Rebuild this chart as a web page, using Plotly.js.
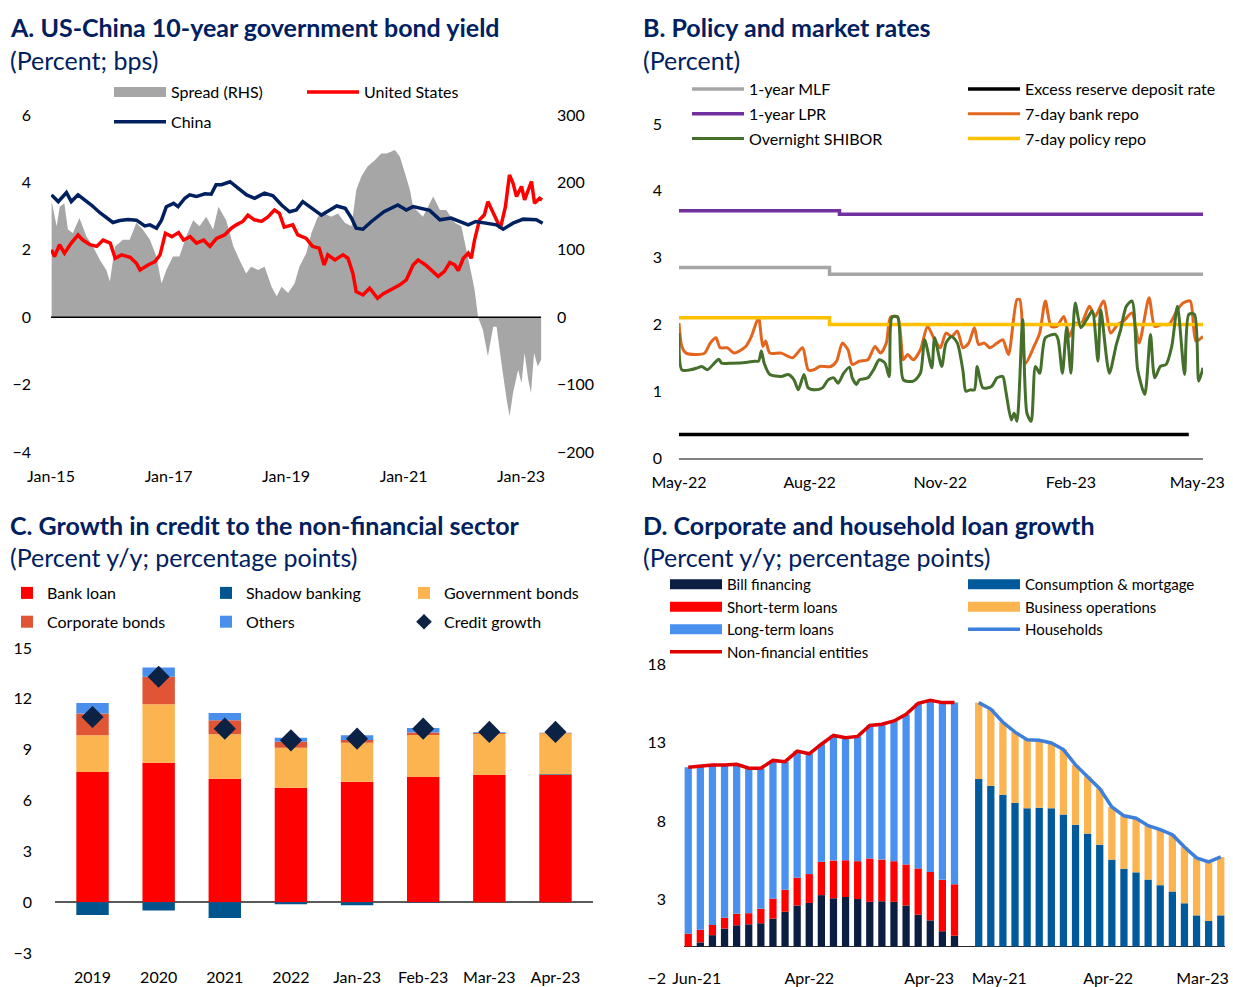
<!DOCTYPE html>
<html>
<head>
<meta charset="utf-8">
<script src="https://cdn.plot.ly/plotly-3.0.1.min.js"></script>
<style>html,body{margin:0;padding:0;background:#fff;}#chart{width:1233px;height:987px;}</style>
</head>
<body>
<div id="chart"></div>
<script>
// ---------- Panel A: US-China 10-year government bond yield ----------
const aChinaDates = ['2015-01-04','2015-02-15','2015-04-07','2015-05-07','2015-06-18','2015-07-26','2015-09-09','2015-11-01','2015-12-12','2016-01-21','2016-03-04','2016-04-23','2016-06-15','2016-08-06','2016-09-07','2016-10-18','2016-11-18','2016-12-18','2017-02-01','2017-03-01','2017-04-12','2017-05-12','2017-06-23','2017-08-15','2017-09-23','2017-10-23','2017-11-26','2018-01-18','2018-03-09','2018-05-01','2018-06-20','2018-08-20','2018-10-12','2018-12-04','2019-01-23','2019-03-06','2019-04-15','2019-05-26','2019-08-09','2019-10-01','2019-11-12','2020-01-04','2020-02-12','2020-03-12','2020-04-23','2020-06-15','2020-08-06','2020-09-01','2020-11-26','2021-01-18','2021-03-01','2021-06-12','2021-08-15','2021-10-23','2022-02-07','2022-03-26','2022-08-01','2022-09-12','2022-11-12','2023-01-15','2023-04-06','2023-05-15'];
const aChina = [3.63,3.43,3.70,3.43,3.63,3.50,3.33,3.10,2.94,2.81,2.87,2.90,2.88,2.71,2.74,2.64,2.88,3.28,3.38,3.28,3.53,3.63,3.58,3.66,3.65,3.93,3.93,4.02,3.83,3.63,3.53,3.68,3.60,3.33,3.13,3.18,3.43,3.28,3.03,3.18,3.30,3.23,2.94,2.64,2.61,2.84,3.04,3.13,3.33,3.18,3.28,3.17,2.89,2.94,2.74,2.84,2.74,2.61,2.79,2.91,2.89,2.79];

const aUSDates = ['2015-01-04','2015-01-23','2015-02-23','2015-03-26','2015-05-07','2015-06-18','2015-07-18','2015-09-01','2015-10-12','2015-11-21','2016-01-04','2016-02-04','2016-03-15','2016-05-07','2016-06-15','2016-07-07','2016-08-26','2016-10-09','2016-11-09','2016-12-12','2017-01-21','2017-03-04','2017-04-04','2017-05-15','2017-06-23','2017-08-07','2017-09-15','2017-10-26','2017-12-15','2018-01-26','2018-02-26','2018-04-07','2018-05-09','2018-06-18','2018-08-01','2018-09-09','2018-10-21','2018-11-21','2018-12-21','2019-02-12','2019-03-15','2019-05-07','2019-06-15','2019-07-26','2019-08-26','2019-09-18','2019-11-01','2019-12-21','2020-01-21','2020-02-21','2020-03-12','2020-04-23','2020-06-04','2020-07-23','2020-08-26','2020-10-07','2020-12-09','2021-01-18','2021-03-01','2021-04-01','2021-05-18','2021-07-01','2021-08-04','2021-09-12','2021-10-15','2021-11-15','2021-12-07','2022-01-07','2022-02-07','2022-02-26','2022-03-18','2022-04-18','2022-05-18','2022-06-09','2022-07-09','2022-08-01','2022-08-26','2022-09-26','2022-10-21','2022-11-12','2022-12-04','2023-01-04','2023-01-23','2023-03-07','2023-03-26','2023-04-26','2023-05-12'];
const aUS = [2.00,1.80,2.15,1.90,2.20,2.44,2.29,2.15,2.10,2.29,2.20,1.75,1.85,1.78,1.60,1.40,1.55,1.65,1.85,2.49,2.39,2.51,2.29,2.39,2.20,2.29,2.10,2.34,2.44,2.64,2.74,2.84,3.03,2.89,2.84,2.97,3.18,3.08,2.67,2.74,2.44,2.34,2.10,2.05,1.55,1.85,1.70,1.85,1.75,1.30,0.76,0.66,0.86,0.56,0.69,0.81,0.96,1.11,1.55,1.70,1.55,1.36,1.21,1.36,1.62,1.55,1.38,1.75,1.90,1.75,2.29,2.89,3.04,3.43,3.14,2.89,2.64,3.28,4.22,3.98,3.58,3.88,3.48,4.03,3.38,3.53,3.48];

const aSpreadDates = ['2015-01-05','2015-02-05','2015-02-24','2015-03-25','2015-04-16','2015-05-17','2015-06-27','2015-08-09','2015-09-19','2015-11-01','2015-12-11','2016-01-02','2016-02-03','2016-03-23','2016-05-04','2016-06-15','2016-07-25','2016-09-07','2016-10-17','2016-11-18','2016-12-18','2017-01-28','2017-03-09','2017-04-21','2017-06-03','2017-07-12','2017-08-23','2017-10-05','2017-11-07','2017-12-25','2018-02-08','2018-03-18','2018-04-28','2018-05-29','2018-07-11','2018-08-21','2018-10-03','2018-11-04','2018-12-04','2019-01-14','2019-02-23','2019-03-25','2019-05-07','2019-06-08','2019-07-18','2019-08-28','2019-10-09','2019-11-20','2020-01-02','2020-02-12','2020-03-13','2020-04-14','2020-05-23','2020-07-06','2020-08-15','2020-09-18','2020-11-08','2020-12-09','2021-01-09','2021-02-09','2021-03-01','2021-05-01','2021-07-04','2021-08-15','2021-09-23','2021-11-15','2021-12-26','2022-01-26','2022-02-26','2022-03-18','2022-04-09','2022-05-09','2022-06-09','2022-07-12','2022-08-02','2022-09-04','2022-10-04','2022-10-22','2022-11-12','2022-12-14','2023-01-04','2023-01-23','2023-02-15','2023-03-04','2023-03-23','2023-04-15','2023-05-06'];
const aSpread = [172,135,164,169,130,125,147,120,105,85,70,53,105,115,115,140,130,115,90,50,70,90,90,120,144,135,149,130,164,144,105,85,65,75,70,75,45,31,45,36,50,75,95,125,149,154,149,154,140,135,189,209,224,233,243,243,248,238,214,189,164,149,179,159,159,140,135,100,65,41,0,-19,-58,-14,-14,-73,-123,-147,-113,-78,-98,-53,-93,-113,-53,-73,-63];

// ---------- Panel B: Policy and market rates ----------
const bMLFDates = ['2022-05-01','2022-08-15','2023-05-05'];
const bMLF = [2.85,2.75,2.75];
const bLPRDates = ['2022-05-01','2022-08-22','2023-05-05'];
const bLPR = [3.70,3.65,3.65];
const bPolicyDates = ['2022-05-01','2022-08-15','2023-05-05'];
const bPolicy = [2.10,2.00,2.00];
const bExcessDates = ['2022-05-01','2023-04-25'];
const bExcess = [0.35,0.35];
const bRepoDates = ['2022-05-01','2022-05-03','2022-05-06','2022-05-14','2022-05-19','2022-05-23','2022-05-27','2022-05-30','2022-06-04','2022-06-09','2022-06-17','2022-06-21','2022-06-26','2022-06-29','2022-07-01','2022-07-04','2022-07-12','2022-07-20','2022-07-27','2022-07-31','2022-08-04','2022-08-08','2022-08-16','2022-08-20','2022-08-24','2022-08-28','2022-08-31','2022-09-05','2022-09-11','2022-09-16','2022-09-20','2022-09-24','2022-09-27','2022-10-02','2022-10-06','2022-10-09','2022-10-13','2022-10-18','2022-10-23','2022-10-28','2022-11-01','2022-11-05','2022-11-09','2022-11-13','2022-11-17','2022-11-21','2022-11-25','2022-11-28','2022-12-02','2022-12-06','2022-12-11','2022-12-15','2022-12-19','2022-12-25','2022-12-27','2022-12-31','2023-01-06','2023-01-10','2023-01-14','2023-01-18','2023-01-22','2023-01-27','2023-01-31','2023-02-04','2023-02-08','2023-02-14','2023-02-18','2023-02-24','2023-03-01','2023-03-06','2023-03-10','2023-03-16','2023-03-21','2023-03-28','2023-04-01','2023-04-06','2023-04-11','2023-04-17','2023-04-21','2023-04-26','2023-04-30','2023-05-05'];
const bRepo = [2.02,1.67,1.57,1.55,1.57,1.72,1.80,1.65,1.65,1.57,1.67,1.82,2.10,1.67,1.75,1.57,1.57,1.50,1.65,1.32,1.32,1.37,1.37,1.45,1.72,1.62,1.40,1.45,1.47,1.67,1.57,1.72,2.11,2.11,1.47,1.55,1.47,1.62,1.97,1.77,1.65,1.87,1.82,1.90,1.65,1.72,1.95,1.70,1.72,1.65,1.72,1.77,1.55,2.37,2.37,1.42,1.67,1.87,2.35,1.97,1.97,2.12,1.82,2.02,2.00,2.27,2.12,2.35,1.87,2.00,2.05,2.17,1.72,2.40,1.97,2.00,2.00,2.22,2.32,2.35,1.75,1.82];
const bShiborDates = ['2022-05-01','2022-05-03','2022-05-09','2022-05-14','2022-05-17','2022-05-21','2022-05-25','2022-05-29','2022-05-31','2022-06-07','2022-06-17','2022-06-23','2022-06-26','2022-06-28','2022-06-30','2022-07-04','2022-07-12','2022-07-17','2022-07-21','2022-07-24','2022-07-28','2022-07-31','2022-08-05','2022-08-10','2022-08-14','2022-08-18','2022-08-21','2022-08-25','2022-08-29','2022-08-31','2022-09-03','2022-09-05','2022-09-11','2022-09-15','2022-09-19','2022-09-23','2022-09-26','2022-09-28','2022-10-02','2022-10-06','2022-10-13','2022-10-18','2022-10-21','2022-10-26','2022-10-28','2022-11-02','2022-11-05','2022-11-09','2022-11-13','2022-11-17','2022-11-19','2022-11-22','2022-11-25','2022-11-27','2022-12-01','2022-12-07','2022-12-11','2022-12-15','2022-12-17','2022-12-21','2022-12-23','2022-12-25','2022-12-29','2023-01-01','2023-01-04','2023-01-07','2023-01-10','2023-01-14','2023-01-21','2023-01-23','2023-01-26','2023-01-29','2023-02-01','2023-02-04','2023-02-08','2023-02-12','2023-02-16','2023-02-20','2023-02-22','2023-02-28','2023-03-05','2023-03-08','2023-03-12','2023-03-16','2023-03-20','2023-03-25','2023-03-29','2023-04-01','2023-04-05','2023-04-09','2023-04-13','2023-04-17','2023-04-22','2023-04-25','2023-04-29','2023-05-02','2023-05-05'];
const bShibor = [1.87,1.32,1.32,1.35,1.37,1.32,1.40,1.48,1.42,1.42,1.43,1.45,1.45,1.60,1.42,1.25,1.22,1.25,1.17,1.02,1.25,1.05,1.02,1.05,1.17,1.20,1.12,1.27,1.36,1.20,1.10,1.17,1.20,1.32,1.47,1.42,1.22,2.11,2.11,1.17,1.15,1.27,1.77,1.35,1.80,1.37,1.72,1.82,1.72,1.30,1.00,1.02,1.02,1.37,1.05,1.07,1.20,1.22,1.02,0.57,0.67,0.55,2.07,0.67,0.55,1.37,1.27,1.80,1.85,1.77,1.27,1.95,1.27,2.32,1.95,2.07,2.20,1.45,2.22,1.27,1.70,1.92,2.27,2.35,1.32,0.95,1.85,1.20,1.37,1.40,1.67,2.27,1.25,2.15,2.15,1.15,1.35];

// ---------- Panel C: Growth in credit to the non-financial sector ----------
const cCategories = ['2019','2020','2021','2022','Jan-23','Feb-23','Mar-23','Apr-23'];
const cBankLoan = [7.68,8.23,7.28,6.75,7.10,7.38,7.50,7.50];
const cShadow = [-0.75,-0.49,-0.93,-0.12,-0.18,-0.04,0.00,0.05];
const cGovBonds = [2.17,3.45,2.63,2.37,2.31,2.49,2.43,2.40];
const cCorpBonds = [1.28,1.62,0.83,0.35,0.16,0.14,0.06,0.03];
const cOthers = [0.63,0.55,0.43,0.24,0.28,0.27,0.04,0.02];
const cCreditGrowth = [10.93,13.30,10.24,9.55,9.65,10.24,10.05,10.05];

// ---------- Panel D: Corporate and household loan growth ----------
const dBill = [0.00,0.27,0.73,1.15,1.36,1.42,1.49,1.78,2.22,2.62,2.78,3.28,3.08,3.16,3.03,2.85,2.89,2.85,2.62,2.03,1.67,0.98,0.69];
const dShort = [0.82,0.80,0.65,0.69,0.73,0.71,0.92,1.27,1.40,1.77,1.84,2.12,2.40,2.34,2.41,2.76,2.65,2.59,2.61,2.95,3.08,3.27,3.28];
const dLong = [10.60,10.44,10.19,9.73,9.52,9.23,8.95,8.81,8.16,8.06,7.66,7.49,7.97,7.81,7.95,8.47,8.62,8.93,9.56,10.52,10.94,11.29,11.57];
const dNonFin = [11.42,11.51,11.57,11.57,11.61,11.36,11.36,11.86,11.78,12.45,12.28,12.89,13.45,13.31,13.39,14.08,14.16,14.37,14.79,15.50,15.69,15.54,15.54];
const dConsumption = [10.67,10.23,9.67,9.16,8.81,8.85,8.81,8.41,7.76,7.20,6.49,5.54,4.96,4.73,4.27,3.91,3.51,2.76,1.99,1.63,1.99];
const dBusiness = [4.87,4.90,4.62,4.50,4.37,4.29,4.16,4.14,3.81,3.64,3.57,3.35,3.37,3.45,3.43,3.54,3.62,3.58,3.66,3.77,3.72];
const dHouseholds = [15.54,15.13,14.29,13.66,13.18,13.14,12.97,12.55,11.57,10.84,10.06,8.89,8.33,8.18,7.70,7.45,7.13,6.34,5.65,5.40,5.71];
const dTickText = ['Jun-21','Apr-22','Apr-23','May-21','Apr-22','Mar-23'];
const dTickPos = [0.7,10,19.9,25.7,34.7,42.5];

// slot positions for panel D (left group, one empty slot, right group)
const dNfX = dNonFin.map((_, i) => i);
const dHhX = dHouseholds.map((_, i) => i + dNonFin.length + 1);

const FONT = 'Lato, "Open Sans", "Liberation Sans", sans-serif';
const NAVY = '#002060';
const COL = {spread:'#A6A6A6', us:'#FF0000', china:'#002060', bill:'#0B1E42', short:'#FF0000', long:'#4A90EE',
             nonfin:'#E00000', cons:'#00599A', bus:'#FBB450', hh:'#3D7FDB'};

// legend key for a filled area / bar series (wide rectangle as in the original)
function key(name, color, axX, axY, legendId, group) {
  return {type:'scatter', x:[null], y:[null], xaxis:axX, yaxis:axY, mode:'lines', line:{color:color, width:12},
          name:name, legend:legendId, legendgroup:group, hoverinfo:'skip'};
}

const traces = [
  // A  (spread on base axis y, shown on the right; yields on overlaying y2, shown on the left)
  {type:'scatter', x:aSpreadDates, y:aSpread, xaxis:'x', yaxis:'y', mode:'none', fill:'tozeroy', fillcolor:COL.spread, name:'Spread (RHS)', showlegend:false, legendgroup:'a1'},
  key('Spread (RHS)', COL.spread, 'x', 'y', 'legend', 'a1'),
  {type:'scatter', x:aUSDates, y:aUS, xaxis:'x', yaxis:'y2', mode:'lines', line:{color:COL.us, width:3.5}, name:'United States', legend:'legend2', legendgroup:'a2'},
  {type:'scatter', x:aChinaDates, y:aChina, xaxis:'x', yaxis:'y2', mode:'lines', line:{color:COL.china, width:3.5}, name:'China', legend:'legend', legendgroup:'a3'},
  // B
  {type:'scatter', x:bMLFDates, y:bMLF, xaxis:'x2', yaxis:'y3', mode:'lines', line:{color:'#A6A6A6', width:3.5, shape:'hv'}, name:'1-year MLF', legend:'legend3', legendgroup:'b1'},
  {type:'scatter', x:bLPRDates, y:bLPR, xaxis:'x2', yaxis:'y3', mode:'lines', line:{color:'#7030A0', width:3.5, shape:'hv'}, name:'1-year LPR', legend:'legend3', legendgroup:'b2'},
  {type:'scatter', x:bExcessDates, y:bExcess, xaxis:'x2', yaxis:'y3', mode:'lines', line:{color:'#000000', width:3.5}, name:'Excess reserve deposit rate', legend:'legend4', legendgroup:'b3'},
  {type:'scatter', x:bRepoDates, y:bRepo, xaxis:'x2', yaxis:'y3', mode:'lines', line:{color:'#E2661E', width:3, shape:'spline', smoothing:0.7}, name:'7-day bank repo', legend:'legend4', legendgroup:'b4'},
  {type:'scatter', x:bPolicyDates, y:bPolicy, xaxis:'x2', yaxis:'y3', mode:'lines', line:{color:'#FFC000', width:3.5, shape:'hv'}, name:'7-day policy repo', legend:'legend4', legendgroup:'b5'},
  {type:'scatter', x:bShiborDates, y:bShibor, xaxis:'x2', yaxis:'y3', mode:'lines', line:{color:'#44702B', width:3, shape:'spline', smoothing:0.7}, name:'Overnight SHIBOR', legend:'legend3', legendgroup:'b6'},
  // C
  {type:'bar', x:cCategories, y:cBankLoan, xaxis:'x3', yaxis:'y4', marker:{color:'#FF0000'}, name:'Bank loan', legend:'legend5', legendgroup:'c1'},
  {type:'bar', x:cCategories, y:cShadow, xaxis:'x3', yaxis:'y4', marker:{color:'#00558F'}, name:'Shadow banking', legend:'legend6', legendgroup:'c2'},
  {type:'bar', x:cCategories, y:cGovBonds, xaxis:'x3', yaxis:'y4', marker:{color:'#FBB450'}, name:'Government bonds', legend:'legend7', legendgroup:'c3'},
  {type:'bar', x:cCategories, y:cCorpBonds, xaxis:'x3', yaxis:'y4', marker:{color:'#E05535'}, name:'Corporate bonds', legend:'legend5', legendgroup:'c4'},
  {type:'bar', x:cCategories, y:cOthers, xaxis:'x3', yaxis:'y4', marker:{color:'#4A8FEC'}, name:'Others', legend:'legend6', legendgroup:'c5'},
  {type:'scatter', x:cCategories, y:cCreditGrowth, xaxis:'x3', yaxis:'y4', mode:'markers', marker:{symbol:'diamond', size:17, color:'#0B2244'}, name:'Credit growth', legend:'legend7', legendgroup:'c6'},
  // D bars
  {type:'bar', x:dNfX, y:dBill, xaxis:'x4', yaxis:'y5', width:0.6, marker:{color:COL.bill}, name:'Bill financing', showlegend:false, legendgroup:'d1'},
  {type:'bar', x:dNfX, y:dShort, xaxis:'x4', yaxis:'y5', width:0.6, marker:{color:COL.short}, name:'Short-term loans', showlegend:false, legendgroup:'d2'},
  {type:'bar', x:dNfX, y:dLong, xaxis:'x4', yaxis:'y5', width:0.6, marker:{color:COL.long}, name:'Long-term loans', showlegend:false, legendgroup:'d3'},
  {type:'bar', x:dHhX, y:dConsumption, xaxis:'x4', yaxis:'y5', width:0.6, marker:{color:COL.cons}, name:'Consumption & mortgage', showlegend:false, legendgroup:'d5'},
  {type:'bar', x:dHhX, y:dBusiness, xaxis:'x4', yaxis:'y5', width:0.6, marker:{color:COL.bus}, name:'Business operations', showlegend:false, legendgroup:'d6'},
  // D legend keys and lines
  key('Bill financing', COL.bill, 'x4', 'y5', 'legend8', 'd1'),
  key('Short-term loans', COL.short, 'x4', 'y5', 'legend8', 'd2'),
  key('Long-term loans', COL.long, 'x4', 'y5', 'legend8', 'd3'),
  {type:'scatter', x:dNfX, y:dNonFin, xaxis:'x4', yaxis:'y5', mode:'lines', line:{color:COL.nonfin, width:3.5}, name:'Non-financial entities', legend:'legend8', legendgroup:'d4'},
  key('Consumption & mortgage', COL.cons, 'x4', 'y5', 'legend9', 'd5'),
  key('Business operations', COL.bus, 'x4', 'y5', 'legend9', 'd6'),
  {type:'scatter', x:dHhX, y:dHouseholds, xaxis:'x4', yaxis:'y5', mode:'lines', line:{color:COL.hh, width:3.5}, name:'Households', legend:'legend9', legendgroup:'d7'}
];

const W = 1233, H = 987;
const px = v => v / W;
const py = v => 1 - v / H;
const tickFont = {family: FONT, size: 16, color: '#000'};
function leg(xl, yt, gap, size, iw, sizing) {
  const o = {x: px(xl), y: py(yt), xanchor: 'left', yanchor: 'top', orientation: 'v', bgcolor: 'rgba(0,0,0,0)',
          borderwidth: 0, tracegroupgap: gap, traceorder: 'grouped', font: {family: FONT, size: size || 16, color: '#000'}};
  if (iw) o.itemwidth = iw;
  if (sizing) o.itemsizing = sizing;
  return o;
}
const baseAxis = {showgrid: false, zeroline: false, showline: false, ticks: '', tickfont: tickFont, fixedrange: true};

const layout = {
  width: W, height: H,
  margin: {l: 0, r: 0, t: 0, b: 0},
  paper_bgcolor: '#fff', plot_bgcolor: 'rgba(0,0,0,0)',
  font: {family: FONT, color: '#000'},
  barmode: 'relative', bargap: 0.51,
  hovermode: false,
  showlegend: true,
  // A
  xaxis: Object.assign({}, baseAxis, {domain: [px(51), px(545)], anchor: 'y', type: 'date', range: ['2015-01-01', '2023-05-30'],
          tickformat: '%b-%y', dtick: 'M24', tick0: '2015-01-01', ticklabelstandoff: 13}),
  yaxis: Object.assign({}, baseAxis, {domain: [py(452), py(115)], anchor: 'x', side: 'right', range: [-200, 300], dtick: 100, ticklabelstandoff: 11}),
  yaxis2: Object.assign({}, baseAxis, {overlaying: 'y', side: 'left', anchor: 'x', range: [-4, 6], dtick: 2, ticklabelstandoff: 19}),
  // B
  xaxis2: Object.assign({}, baseAxis, {domain: [px(679), px(1203)], anchor: 'y3', type: 'date', range: ['2022-05-01', '2023-05-05'],
          tickformat: '%b-%y', dtick: 'M3', tick0: '2022-05-01', showline: true, linecolor: '#808080', linewidth: 1.5, ticklabelstandoff: 9}),
  yaxis3: Object.assign({}, baseAxis, {domain: [py(458), py(124)], anchor: 'x2', range: [0, 5], dtick: 1, ticklabelstandoff: 16}),
  // C
  xaxis3: Object.assign({}, baseAxis, {domain: [px(55), px(593)], anchor: 'y4', type: 'category', ticklabelstandoff: 13}),
  yaxis4: Object.assign({}, baseAxis, {domain: [py(953), py(648)], anchor: 'x3', range: [-3, 15], dtick: 3, ticklabelstandoff: 22,
          zeroline: true, zerolinecolor: '#595959', zerolinewidth: 1.5}),
  // D
  xaxis4: Object.assign({}, baseAxis, {domain: [px(684), px(1225)], anchor: 'y5', range: [-0.35, 44.35], tickmode: 'array',
          tickvals: dTickPos, ticktext: dTickText, ticklabelstandoff: -11, ticklabeloverflow: 'allow'}),
  yaxis5: Object.assign({}, baseAxis, {domain: [py(978), py(664)], anchor: 'x4', range: [-2, 18], dtick: 5, tick0: -2, ticklabelstandoff: 17,
          ticklabeloverflow: 'allow', zeroline: true, zerolinecolor: '#262626', zerolinewidth: 1.5}),
  shapes: [
    {type: 'line', xref: 'x domain', yref: 'y', x0: 0, x1: 0.992, y0: 0, y1: 0, layer: 'above', line: {color: '#000', width: 1.5}}
  ],
  legend: leg(109, 75, 6, 16, 52),
  legend2: leg(302, 75, 6, 16, 52),
  legend3: leg(687, 72, 1, 16, 52),
  legend4: leg(963, 72, 1, 16, 52),
  legend5: leg(7, 576, 5),
  legend6: leg(206, 576, 5),
  legend7: leg(404, 576, 5, 16, null, 'constant'),
  legend8: leg(665, 568, 0, 15, 52),
  legend9: leg(963, 568, 0, 15, 52),
  annotations: [
    {text: '<b>A. US-China 10-year government bond yield</b>', x: px(8), y: py(27)},
    {text: '(Percent; bps)', x: px(8), y: py(60)},
    {text: '<b>B. Policy and market rates</b>', x: px(641), y: py(27)},
    {text: '(Percent)', x: px(641), y: py(60)},
    {text: '<b>C. Growth in credit to the non-financial sector</b>', x: px(8), y: py(525)},
    {text: '(Percent y/y; percentage points)', x: px(8), y: py(557)},
    {text: '<b>D. Corporate and household loan growth</b>', x: px(641), y: py(525)},
    {text: '(Percent y/y; percentage points)', x: px(641), y: py(557)}
  ].map(a => Object.assign({xref: 'paper', yref: 'paper', xanchor: 'left', yanchor: 'middle', showarrow: false,
                             font: {family: FONT, size: 25, color: NAVY}}, a))
};

Plotly.newPlot('chart', traces, layout, {staticPlot: true, displayModeBar: false});
</script>
</body>
</html>
